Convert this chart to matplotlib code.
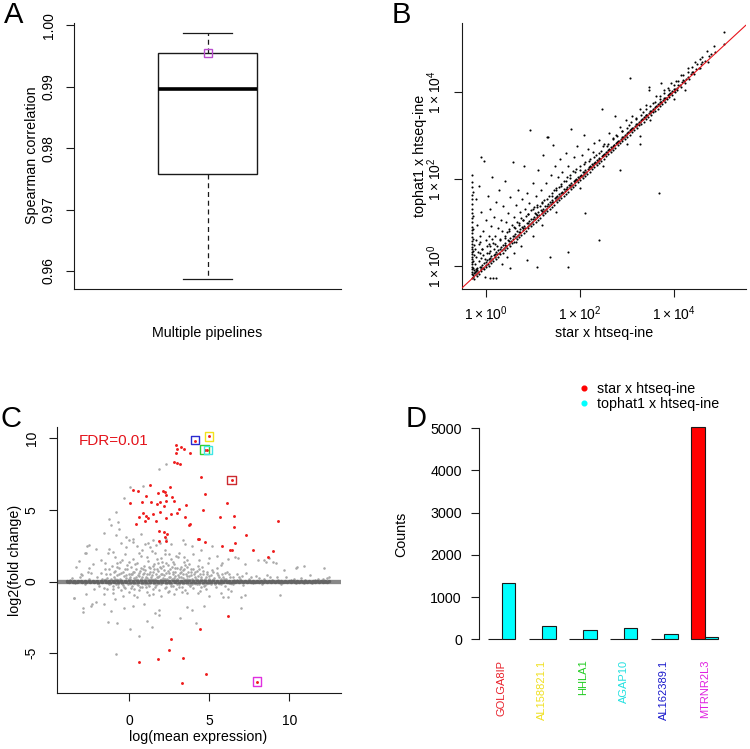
# four-panel pipeline comparison figure (A: box, B: log scatter, C: MA plot, D: counts)

import numpy as np
import matplotlib
matplotlib.use("Agg")
import matplotlib.pyplot as plt
from matplotlib.lines import Line2D
from matplotlib.ticker import NullLocator

plt.rcParams["font.family"] = ["Liberation Sans", "DejaVu Sans"]
plt.rcParams["mathtext.fontset"] = "custom"
plt.rcParams["mathtext.rm"] = "Liberation Sans"

# =============================================================================
# Data
# =============================================================================

# A: Spearman correlation box
A_WHISKER_LOW = 0.9587
A_Q1 = 0.9758
A_MEDIAN = 0.9896
A_Q3 = 0.9954
A_WHISKER_HIGH = 0.9988
A_HIGHLIGHT = 0.9954
A_TICKS = [0.96, 0.97, 0.98, 0.99, 1.00]
A_TICK_LABELS = ["0.96", "0.97", "0.98", "0.99", "1.00"]

# B: log10(star count), log10(tophat1 count)
B_BAND = [
    (-0.30, -0.27), (-0.28, -0.21), (-0.26, -0.25), (-0.23, -0.14), (-0.21, -0.19),
    (-0.18, -0.09), (-0.16, -0.13), (-0.13, -0.03), (-0.11, -0.08), (-0.08, 0.02),
    (-0.06, -0.04), (-0.03, 0.07), (0.00, 0.02), (0.02, 0.13), (0.05, 0.04),
    (0.07, 0.16), (0.09, 0.11), (0.12, 0.22), (0.14, 0.15), (0.17, 0.26),
    (0.19, 0.20), (0.22, 0.33), (0.24, 0.27), (0.27, 0.37), (0.29, 0.31),
    (0.32, 0.43), (0.34, 0.36), (0.37, 0.49), (0.39, 0.41), (0.42, 0.53),
    (0.44, 0.46), (0.47, 0.59), (0.49, 0.51), (0.52, 0.64), (0.54, 0.57),
    (0.57, 0.70), (0.59, 0.62), (0.62, 0.73), (0.64, 0.66), (0.67, 0.80),
    (0.69, 0.71), (0.72, 0.84), (0.74, 0.77), (0.77, 0.90), (0.79, 0.82),
    (0.82, 0.93), (0.84, 0.87), (0.87, 0.99), (0.89, 0.92), (0.92, 1.04),
    (0.94, 0.97), (0.97, 1.09), (0.99, 1.02), (1.02, 1.13), (1.04, 1.07),
    (1.07, 1.19), (1.09, 1.12), (1.12, 1.23), (1.14, 1.17), (1.17, 1.29),
    (1.19, 1.22), (1.22, 1.32), (1.24, 1.27), (1.27, 1.38), (1.29, 1.32),
    (1.32, 1.42), (1.34, 1.37), (1.37, 1.48), (1.39, 1.42), (1.42, 1.52),
    (1.44, 1.47), (1.47, 1.57), (1.49, 1.52), (1.52, 1.62), (1.54, 1.57),
    (1.57, 1.66), (1.59, 1.62), (1.62, 1.71), (1.64, 1.67), (1.67, 1.77),
    (1.69, 1.72), (1.72, 1.81), (1.74, 1.77), (1.77, 1.86), (1.79, 1.82),
    (1.82, 1.90), (1.84, 1.87), (1.87, 1.96), (1.89, 1.92), (1.92, 2.00),
    (1.94, 1.97), (1.97, 2.05), (1.99, 2.02), (2.02, 2.10), (2.04, 2.07),
    (2.07, 2.15), (2.09, 2.12), (2.12, 2.20), (2.14, 2.17), (2.17, 2.24),
    (2.19, 2.22), (2.22, 2.29), (2.24, 2.27), (2.27, 2.34), (2.29, 2.32),
    (2.32, 2.39), (2.34, 2.37), (2.37, 2.44), (2.39, 2.42), (2.42, 2.48),
    (2.44, 2.47), (2.47, 2.54), (2.49, 2.52), (2.52, 2.58), (2.54, 2.57),
    (2.57, 2.63), (2.59, 2.62), (2.62, 2.68), (2.64, 2.67), (2.67, 2.73),
    (2.69, 2.72), (2.72, 2.78), (2.74, 2.77), (2.77, 2.83), (2.79, 2.82),
    (2.82, 2.88), (2.84, 2.87), (2.87, 2.93), (2.89, 2.92), (2.92, 2.97),
    (2.94, 2.97), (2.97, 3.02), (2.99, 3.02), (3.02, 3.07), (3.04, 3.07),
    (3.07, 3.12), (3.09, 3.12), (3.12, 3.17), (3.14, 3.17), (3.17, 3.22),
    (3.19, 3.22), (3.22, 3.27), (3.24, 3.27), (3.27, 3.32), (3.29, 3.32),
    (3.32, 3.37), (3.34, 3.37), (3.37, 3.42), (3.39, 3.42), (3.42, 3.47),
    (3.44, 3.47), (3.47, 3.52), (3.49, 3.52), (3.52, 3.57), (3.54, 3.57),
    (3.57, 3.62), (3.59, 3.62), (3.62, 3.67), (3.64, 3.67), (3.67, 3.72),
    (3.69, 3.72), (3.72, 3.77), (3.74, 3.77), (3.77, 3.82), (3.79, 3.82),
    (3.82, 3.87), (3.84, 3.87), (3.87, 3.92), (3.89, 3.92), (3.92, 3.97),
    (3.94, 3.97), (3.97, 4.02), (4.00, 4.03), (4.03, 4.08), (4.07, 4.10),
    (4.10, 4.16), (4.14, 4.17), (4.18, 4.23), (4.22, 4.25), (4.26, 4.31),
    (4.31, 4.34), (4.36, 4.41), (4.41, 4.45), (4.47, 4.53), (4.53, 4.56),
    (4.59, 4.65), (4.67, 4.71), (4.76, 4.82), (4.87, 4.93), (5.06, 5.11),
]

B_BAND_LOW = [
    (-0.24, -0.29), (-0.19, -0.22), (-0.14, -0.18), (-0.09, -0.12), (-0.04, -0.08),
    (0.01, -0.03), (0.06, 0.01), (0.11, 0.06), (0.16, 0.11), (0.21, 0.16),
    (0.26, 0.21), (0.31, 0.27), (0.36, 0.31), (0.41, 0.36), (0.46, 0.41),
    (0.51, 0.46), (0.56, 0.52), (0.61, 0.56), (0.66, 0.61), (0.71, 0.66),
    (0.76, 0.72), (0.81, 0.76), (0.86, 0.81), (0.91, 0.87), (0.96, 0.91),
    (1.01, 0.96), (1.06, 1.02), (1.11, 1.06), (1.16, 1.11), (1.21, 1.17),
    (1.26, 1.21), (1.31, 1.26), (1.36, 1.32), (1.41, 1.36), (1.46, 1.41),
    (1.51, 1.47), (1.56, 1.51), (1.61, 1.56), (1.66, 1.62), (1.71, 1.66),
    (1.76, 1.71), (1.81, 1.77), (1.86, 1.82), (1.91, 1.87), (1.96, 1.92),
    (2.01, 1.97), (2.06, 2.02), (2.11, 2.07), (2.16, 2.12), (2.21, 2.17),
    (2.26, 2.22), (2.31, 2.27), (2.36, 2.32), (2.41, 2.37), (2.46, 2.42),
    (2.51, 2.47), (2.56, 2.52), (2.61, 2.57), (2.66, 2.62), (2.71, 2.67),
    (2.76, 2.72), (2.81, 2.78), (2.86, 2.82), (2.91, 2.87), (2.96, 2.93),
    (3.01, 2.97), (3.06, 3.02), (3.11, 3.08), (3.16, 3.12), (3.21, 3.17),
    (3.26, 3.23), (3.31, 3.27), (3.36, 3.32), (3.41, 3.38), (3.46, 3.42),
    (3.51, 3.47), (3.56, 3.53), (3.61, 3.57), (3.66, 3.62), (3.71, 3.68),
    (3.76, 3.72), (3.81, 3.77), (3.86, 3.83), (3.91, 3.88), (3.96, 3.93),
    (4.02, 3.99), (4.08, 4.05), (4.15, 4.12), (4.23, 4.20), (4.33, 4.30),
    (4.44, 4.41), (4.57, 4.55), (4.72, 4.70),
    (-0.20, -0.12), (-0.10, -0.02), (0.00, 0.09), (0.10, 0.18), (0.20, 0.28),
    (0.30, 0.39), (0.40, 0.48), (0.50, 0.58), (0.60, 0.68), (0.70, 0.78),
    (0.80, 0.88), (0.90, 0.98), (1.00, 1.08), (1.10, 1.18), (1.20, 1.27),
    (1.30, 1.38), (1.40, 1.47), (1.50, 1.58), (1.60, 1.67), (1.70, 1.77),
    (1.80, 1.87), (1.90, 1.97), (2.00, 2.07), (2.10, 2.17), (2.20, 2.27),
    (2.30, 2.36), (2.40, 2.46), (2.50, 2.56), (2.60, 2.66), (2.70, 2.76),
    (2.80, 2.86), (2.90, 2.96), (3.00, 3.06), (3.10, 3.16), (3.20, 3.26),
    (3.30, 3.36), (3.40, 3.46), (3.50, 3.56), (3.60, 3.66), (3.70, 3.76),
    (3.80, 3.86), (3.90, 3.96), (4.00, 4.06), (4.20, 4.27), (4.40, 4.47),
    (4.60, 4.68), (4.80, 4.87),
]

B_UPPER = [
    (0.10, 0.45), (0.30, 0.60), (0.50, 0.80), (0.70, 0.95), (0.90, 1.20),
    (1.10, 1.35), (1.30, 1.55), (1.50, 1.75), (1.70, 1.95), (1.90, 2.15),
    (2.10, 2.35), (2.30, 2.50), (2.50, 2.75), (2.70, 2.92), (2.90, 3.10),
    (3.10, 3.30), (3.30, 3.48), (3.50, 3.68), (3.70, 3.85), (3.90, 4.05),
    (4.10, 4.25), (4.30, 4.45), (4.50, 4.65), (0.20, 0.50), (0.40, 0.65),
    (0.60, 0.90), (0.80, 1.05), (1.00, 1.30), (1.20, 1.45), (1.40, 1.62),
    (1.60, 1.85), (1.80, 2.02), (2.00, 2.20), (2.20, 2.42), (2.40, 2.60),
    (2.60, 2.80), (2.80, 2.98), (3.00, 3.18), (3.20, 3.38), (3.40, 3.60),
    (3.60, 3.78), (3.80, 3.98), (4.00, 4.15), (4.20, 4.40), (4.40, 4.58),
    (4.60, 4.80),
    (-0.20, 1.55), (-0.18, 0.95), (-0.15, 1.85), (-0.12, 0.55), (-0.10, 1.25),
    (-0.08, 0.38), (-0.05, 0.80), (-0.03, 2.42), (0.00, 1.05), (0.02, 0.45),
    (0.04, 1.62), (0.06, 0.70), (0.08, 0.30), (0.10, 1.30), (0.12, 0.92),
    (0.14, 2.05), (0.15, 0.52), (0.18, 1.12), (0.20, 0.68), (0.22, 1.48),
    (0.24, 0.45), (0.26, 0.88), (0.28, 1.75), (0.30, 0.62), (0.32, 1.05),
    (0.35, 0.80), (0.37, 1.38), (0.40, 0.70), (0.42, 1.95), (0.44, 1.00),
    (0.46, 0.78), (0.48, 1.22), (0.50, 0.85), (0.52, 1.58), (0.55, 0.95),
    (0.58, 2.40), (0.60, 1.12), (0.62, 0.88), (0.64, 1.40), (0.66, 1.02),
    (0.68, 1.75), (0.70, 0.98), (0.72, 1.25), (0.75, 1.10), (0.77, 1.55),
    (0.80, 1.05), (0.82, 2.30), (0.84, 1.30), (0.86, 1.15), (0.88, 1.68),
    (0.90, 1.20), (0.93, 1.45), (0.95, 3.13), (0.97, 1.28), (1.00, 1.90),
    (1.02, 1.35), (1.05, 1.22), (1.08, 1.60), (1.10, 1.40), (1.12, 2.20),
    (1.15, 1.38), (1.18, 1.75), (1.20, 1.48), (1.22, 2.55), (1.25, 1.52),
    (1.28, 1.90), (1.30, 2.96), (1.33, 2.96), (1.35, 1.60), (1.38, 2.10),
    (1.40, 1.68), (1.43, 2.78), (1.45, 1.75), (1.48, 2.30), (1.50, 1.80),
    (1.53, 2.05), (1.55, 1.82), (1.58, 2.45), (1.60, 1.88), (1.63, 2.15),
    (1.66, 1.95), (1.70, 2.60), (1.73, 2.05), (1.76, 2.30), (1.80, 2.10),
    (1.82, 3.16), (1.85, 2.18), (1.88, 2.50), (1.92, 2.22), (1.95, 2.75),
    (2.00, 2.30), (2.05, 2.55), (2.10, 3.01), (2.12, 2.38), (2.18, 2.70),
    (2.22, 2.45), (2.28, 2.62), (2.31, 2.82), (2.35, 2.55), (2.40, 2.90),
    (2.45, 2.65), (2.47, 3.62), (2.52, 2.80), (2.58, 2.75), (2.62, 3.05),
    (2.70, 2.95), (2.75, 3.45), (2.78, 3.00), (2.85, 3.20), (2.90, 3.10),
    (2.98, 3.35), (3.05, 3.25), (3.07, 4.33), (3.12, 3.45), (3.20, 3.40),
    (3.28, 3.60), (3.35, 3.55), (3.42, 3.70), (3.48, 4.12), (3.48, 4.05),
    (3.55, 3.75), (3.62, 3.90), (3.70, 3.90), (3.72, 4.21), (3.80, 4.05),
    (3.88, 4.10), (3.95, 4.20), (4.05, 4.25), (4.15, 4.40), (4.30, 4.55),
    (4.45, 4.70), (4.55, 4.75), (4.70, 4.95), (4.85, 5.05), (5.06, 5.37),
    (-0.22, 0.05), (-0.20, 0.20), (-0.18, -0.05), (-0.15, 0.12), (-0.12, 0.30),
    (-0.10, 0.18), (-0.07, 0.40), (-0.05, 0.25), (-0.02, 0.15), (0.03, 0.30),
    (0.06, 0.50), (0.10, 0.35), (-0.22, 0.40), (-0.20, 0.60), (-0.15, 0.50),
    (-0.17, 0.32), (-0.12, 0.70), (0.00, 0.60), (0.13, 0.62), (0.18, 0.40),
    (-0.24, -0.15), (-0.21, -0.08),
]

B_COLUMN = [
    (-0.09, 2.51), (-0.30, 2.09), (-0.29, 1.94), (-0.30, 1.82), (-0.28, 1.70),
    (-0.30, 1.63), (-0.29, 1.53), (-0.30, 1.43), (-0.30, 1.30), (-0.29, 1.21),
    (-0.27, 1.15), (-0.30, 1.10), (-0.30, 1.00), (-0.29, 0.90), (-0.27, 0.85),
    (-0.30, 0.83), (-0.30, 0.75), (-0.30, 0.66), (-0.27, 0.62), (-0.29, 0.58),
    (-0.30, 0.51), (-0.25, 0.48), (-0.30, 0.44), (-0.30, 0.38), (-0.27, 0.35),
    (-0.29, 0.33), (-0.30, 0.28), (-0.25, 0.25), (-0.30, 0.21), (-0.30, 0.15),
    (-0.27, 0.12), (-0.29, 0.10), (-0.30, 0.05), (-0.30, -0.02), (-0.27, -0.05),
    (-0.30, -0.08), (-0.24, -0.10), (-0.29, -0.13), (-0.30, -0.18),
]

B_LOWER = [
    (3.69, 1.67), (2.40, 0.60), (1.76, 0.33), (1.76, -0.02), (1.37, 0.21),
    (1.09, -0.02), (0.87, 0.14), (2.11, 1.21), (2.86, 2.21), (3.28, 2.99),
    (3.28, 2.80), (4.24, 4.05), (0.16, -0.28), (0.52, -0.05), (0.09, -0.28),
    (0.21, -0.27), (-0.01, -0.26), (0.45, 0.20), (0.60, 0.30), (0.35, 0.05),
    (0.75, 0.45), (1.00, 0.70), (1.20, 0.95), (1.50, 1.25), (2.00, 1.80),
    (2.50, 2.30), (3.00, 2.80), (3.50, 3.35), (4.00, 3.85), (0.65, 0.55),
]

# C: MA plot, (log mean expression, log2 fold change)
C_RED = [
    (4.10, 9.83), (5.00, 10.12), (4.72, 9.20), (4.86, 9.16), (6.38, 7.09),
    (7.98, -6.98), (2.92, 9.49), (3.25, 9.35), (3.44, 9.24), (2.96, 9.22),
    (2.92, 8.96), (3.81, 8.94), (2.77, 8.37), (2.98, 8.24), (3.17, 8.19),
    (4.48, 7.28), (1.31, 6.75), (0.25, 6.38), (0.52, 6.31), (1.04, 6.00),
    (1.79, 6.19), (2.09, 6.33), (2.23, 6.28), (2.54, 6.63), (2.29, 6.05),
    (2.67, 5.93), (4.75, 6.14), (0.02, 5.47), (0.77, 5.54), (1.34, 5.54),
    (1.94, 5.58), (2.31, 5.63), (2.77, 5.63), (3.56, 5.35), (1.71, 5.40),
    (2.19, 5.28), (6.09, 5.51), (4.63, 5.02), (3.10, 5.05), (0.88, 4.79),
    (1.04, 4.58), (1.46, 4.68), (1.94, 4.84), (2.98, 4.75), (2.61, 4.72),
    (2.29, 4.45), (1.17, 4.40), (0.63, 4.47), (5.67, 4.51), (6.54, 4.58),
    (9.27, 4.24), (3.48, 4.53), (1.67, 4.19), (0.42, 4.00), (1.00, 4.19),
    (3.79, 4.00), (3.75, 3.95), (6.54, 3.79), (1.88, 3.54), (2.15, 3.49),
    (2.36, 3.33), (2.25, 3.14), (7.31, 3.24), (1.84, 2.86), (2.29, 2.86),
    (4.27, 2.95), (4.35, 2.95), (4.75, 2.75), (6.59, 2.68), (5.81, 2.47),
    (6.31, 2.23), (6.40, 2.23), (7.75, 2.19), (9.00, 2.14), (8.65, 1.72),
    (4.40, -3.31), (2.59, -4.02), (2.46, -4.79), (3.34, -5.32), (1.77, -5.37),
    (0.59, -5.60), (3.27, -7.09), (6.13, -2.39), (4.81, -6.46),
]

C_GREY_FAR = [
    (2.29, 8.19), (1.88, 7.86), (0.88, 6.67), (0.04, 6.58), (-0.33, 5.81),
    (-0.85, 4.86), (-1.29, 4.35), (-0.73, 4.12), (-1.14, 3.96), (-0.63, 3.66),
    (-1.60, 3.42), (-0.83, 3.26), (-0.21, 3.14), (0.00, 2.91), (0.25, 2.79),
    (1.46, 2.91), (1.15, 2.68), (1.67, 2.56), (3.33, 2.91), (3.50, 2.61),
    (-2.50, 2.56), (-2.08, 2.28), (-2.71, 1.98), (-1.25, 2.28), (-1.35, 1.98),
    (-1.04, 2.09), (-2.63, 2.47), (-2.77, 1.98), (-3.15, 1.44), (-3.33, 1.02),
    (-2.96, 0.47), (-2.39, 0.58), (-2.50, 0.93), (0.50, 2.50), (0.80, 2.20),
    (1.30, 2.40), (1.00, 2.60), (1.90, 2.70), (2.60, 2.60), (2.30, 3.00),
    (0.20, 3.00), (0.70, 3.30), (-0.50, 2.70), (-0.20, 2.40), (3.90, 2.50),
    (4.50, 2.20), (5.19, 2.51), (5.50, 1.80), (5.80, 1.30), (6.58, 1.72),
    (6.77, 1.67), (7.20, 1.20), (8.38, 1.51), (8.75, 1.67), (9.17, 1.28),
    (10.46, 1.00), (10.88, 1.12), (12.13, 0.95), (12.44, 0.35), (11.30, 0.47),
    (8.02, 1.51), (8.54, 1.40), (9.00, 1.35), (9.63, 0.81), (10.42, 0.98),
    (12.33, 0.28), (5.00, 1.67), (5.73, 1.16), (6.15, 1.58), (4.38, 1.51),
    (1.60, 2.00), (2.20, 2.20), (3.10, 2.00), (4.00, 1.90), (-1.50, 1.30),
    (-0.60, 1.40), (2.50, 1.90), (3.40, 1.70),
    (-3.44, -1.16), (-2.92, -1.86), (-2.92, -2.09), (-2.35, -1.58), (-2.71, -0.88),
    (-2.08, -1.40), (-1.56, -1.58), (-1.14, -2.05), (-1.31, -2.79), (-0.77, -2.91),
    (-0.83, -5.07), (-0.31, -1.81), (0.21, -1.67), (0.04, -3.30), (0.63, -3.77),
    (1.08, -2.72), (1.42, -3.18), (1.88, -1.97), (1.88, -2.32), (3.17, -2.55),
    (3.59, -1.79), (3.92, -1.97), (4.17, -2.90), (-3.46, -1.12), (-2.42, -1.72),
    (0.92, -1.58), (1.60, -2.21), (4.96, -0.98), (6.15, -1.05), (6.98, -1.86),
    (7.23, -0.95), (9.44, -0.93), (4.27, -0.81), (4.69, -1.67), (5.73, -0.81),
    (5.83, -1.05), (6.15, -0.51), (6.35, -0.65), (6.98, -1.05), (-0.40, -1.00),
    (0.50, -1.10), (1.20, -0.95), (2.00, -1.00), (2.80, -0.90), (3.60, -0.80),
    (4.40, -0.65), (-1.00, -0.80), (-1.40, -0.50), (-3.92, -0.05), (-3.60, 0.25),
]

C_GREY_CLOUD = [
    (-2.0, 0.35), (-1.9, -0.3), (-1.8, 0.6), (-1.7, 0.15), (-1.6, -0.45),
    (-1.5, 0.85), (-1.4, 0.25), (-1.3, -0.2), (-1.2, 0.5), (-1.1, 1.1),
    (-1.0, -0.5), (-0.95, 0.3), (-0.9, 0.75), (-0.85, -0.15), (-0.8, 1.3),
    (-0.75, 0.45), (-0.7, -0.35), (-0.65, 0.95), (-0.6, 0.2), (-0.55, -0.6),
    (-0.5, 0.6), (-0.45, 1.5), (-0.4, -0.25), (-0.35, 0.4), (-0.3, 0.85),
    (-0.25, -0.45), (-0.2, 0.25), (-0.15, 1.15), (-0.1, -0.15), (-0.05, 0.55),
    (0.0, -0.7), (0.05, 0.35), (0.1, 1.0), (0.15, -0.3), (0.2, 0.65),
    (0.25, 1.6), (0.3, -0.5), (0.35, 0.2), (0.4, 0.9), (0.45, -0.2),
    (0.5, 1.3), (0.55, 0.45), (0.6, -0.6), (0.65, 0.75), (0.7, 0.15),
    (0.75, 1.8), (0.8, -0.35), (0.85, 0.5), (0.9, 1.1), (0.95, -0.15),
    (1.0, 0.8), (1.05, 0.3), (1.1, -0.75), (1.15, 1.45), (1.2, 0.55),
    (1.25, -0.3), (1.3, 0.95), (1.35, 0.2), (1.4, 2.1), (1.45, -0.5),
    (1.5, 0.65), (1.55, 1.25), (1.6, 0.1), (1.65, -0.25), (1.7, 0.85),
    (1.75, 1.6), (1.8, 0.35), (1.85, -0.6), (1.9, 1.05), (1.95, 0.5),
    (2.0, -0.2), (2.05, 1.4), (2.1, 0.25), (2.15, 0.8), (2.2, -0.45),
    (2.25, 1.9), (2.3, 0.6), (2.35, -0.1), (2.4, 1.15), (2.45, 0.35),
    (2.5, -0.65), (2.55, 0.9), (2.6, 1.55), (2.65, 0.2), (2.7, -0.3),
    (2.75, 0.7), (2.8, 1.2), (2.85, 0.4), (2.9, -0.5), (2.95, 0.95),
    (3.0, 0.15), (3.05, 1.7), (3.1, -0.2), (3.15, 0.6), (3.2, 1.05),
    (3.25, 0.3), (3.3, -0.4), (3.35, 0.8), (3.4, 1.4), (3.45, 0.1),
    (3.5, -0.6), (3.55, 0.55), (3.6, 1.0), (3.65, -0.15), (3.7, 0.4),
    (3.75, 1.25), (3.8, -0.3), (3.85, 0.7), (3.9, 0.2), (3.95, -0.45),
    (4.0, 0.9), (4.1, 0.35), (4.2, -0.2), (4.3, 1.1), (4.4, 0.5),
    (4.5, -0.35), (4.6, 0.75), (4.7, 0.15), (4.8, -0.5), (4.9, 1.3),
    (5.0, 0.4), (5.1, -0.15), (5.2, 0.65), (5.3, 0.25), (5.4, -0.4),
    (5.5, 0.95), (5.6, 0.3), (5.7, -0.2), (5.8, 0.55), (5.9, 0.15),
    (6.0, -0.3), (6.1, 0.7), (6.3, 0.35), (6.5, -0.15), (6.7, 0.5),
    (6.9, 0.2), (7.1, -0.25), (7.3, 0.6), (7.5, 0.15), (7.7, -0.1),
    (7.9, 0.4), (8.1, 0.25), (8.3, -0.2), (8.6, 0.45), (8.9, 0.1),
    (9.2, 0.35), (9.5, -0.15), (9.8, 0.3), (10.1, 0.12), (10.4, -0.1),
    (10.7, 0.25), (11.0, 0.08), (11.4, -0.08), (11.8, 0.15), (12.2, -0.05),
    (-2.5, 0.15), (-2.8, -0.2), (-3.1, 0.3), (-3.4, -0.1), (-3.7, 0.1),
    (-2.2, -0.5), (-2.6, 0.65), (-3.0, 0.55),
    (0.02, 0.15), (0.12, 0.5), (0.22, -0.1), (0.32, 0.7), (0.42, 0.3),
    (0.52, -0.25), (0.62, 0.4), (0.72, 0.95), (0.82, 0.1), (0.92, 0.6),
    (1.02, -0.4), (1.12, 0.25), (1.22, 1.0), (1.32, -0.1), (1.42, 0.45),
    (1.52, 0.9), (1.62, -0.4), (1.72, 0.3), (1.82, 0.75), (1.92, 0.05),
    (2.02, 0.55), (2.12, 1.1), (2.22, 0.15), (2.32, -0.35), (2.42, 0.75),
    (2.52, 0.3), (2.62, -0.15), (2.72, 0.5), (2.82, 0.95), (2.92, 0.1),
    (3.02, 0.45), (3.12, -0.35), (3.22, 0.7), (3.32, 0.25), (3.42, 0.85),
    (3.52, -0.1), (3.62, 0.4), (3.72, 0.1), (3.82, 0.9), (3.92, -0.2),
    (4.02, 0.55), (4.15, 0.2), (4.25, 0.75), (4.35, -0.15), (4.45, 0.35),
    (4.55, 1.0), (4.65, 0.1), (4.75, -0.25), (4.85, 0.5), (4.95, 0.2),
    (5.15, 0.8), (5.35, -0.2), (5.55, 0.45), (5.75, 0.15), (5.95, 0.6),
    (6.2, -0.1), (6.45, 0.3), (6.75, 0.1), (7.05, 0.4), (7.4, -0.05),
    (-1.45, 0.55), (-1.35, -0.1), (-1.25, 0.9), (-1.15, 0.2), (-1.05, -0.3),
    (-0.98, 0.65), (-0.88, 0.15), (-0.78, 1.0), (-0.72, -0.2), (-0.62, 0.5),
    (-0.52, 0.1), (-0.42, 0.7), (-0.32, -0.4), (-0.22, 0.45), (-0.12, 0.9),
    (-0.02, 0.2), (0.08, -0.45), (0.18, 0.55), (0.28, 0.25), (0.38, 1.2),
    (0.48, 0.05), (0.58, 0.6), (0.68, -0.4), (0.78, 0.3), (0.88, 0.85),
    (0.98, 0.15), (1.08, 0.55), (1.18, -0.2), (1.28, 0.7), (1.38, 0.35),
    (1.48, 1.1), (1.58, 0.2), (1.68, 0.55), (1.78, -0.1), (1.88, 0.4),
    (1.98, 0.95), (2.08, 0.1), (2.18, 0.45), (2.28, 1.3), (2.38, 0.2),
    (2.48, 0.6), (2.58, -0.3), (2.68, 1.0), (2.78, 0.25), (2.88, 0.7),
    (2.98, -0.2), (3.08, 0.35), (3.18, 0.85), (3.28, 0.05), (3.38, 0.5),
    (3.48, 1.15), (3.58, 0.2), (3.68, 0.65), (3.78, -0.25), (3.88, 0.45),
    (3.98, 0.1), (4.08, 0.7), (4.18, -0.1), (4.28, 0.4), (4.38, 0.85),
    (4.48, 0.15), (4.58, 0.5), (4.68, -0.3), (4.78, 0.3), (4.88, 0.7),
    (4.98, -0.1), (5.08, 0.45), (5.25, 0.1), (5.45, 0.6), (5.65, -0.1),
    (5.85, 0.35), (6.05, 0.2), (6.25, 0.55), (6.55, 0.1), (6.85, 0.35),
    (7.2, 0.05), (7.6, 0.3), (8.0, -0.05), (8.4, 0.2), (8.8, 0.3),
    (9.3, 0.1), (9.7, -0.05), (10.3, 0.2), (10.9, -0.1), (11.6, 0.1),
    (12.1, 0.2), (-1.8, 1.5), (-2.3, 1.2), (-2.1, 0.05), (-1.6, -0.9),
    (-0.9, -1.2), (0.3, -0.95), (1.5, -0.85), (2.4, -0.75), (3.3, -0.7),
    (-0.3, 1.9), (0.6, 2.0), (1.1, 1.7), (2.0, 1.65), (2.9, 1.8),
    (3.6, 1.5), (-0.9, 1.7), (0.0, 1.4), (1.8, 1.3), (2.7, 1.35),
]

C_GREY_ZERO = [
    (-3.92, 0.02), (-3.80, -0.03), (-3.68, 0.04), (-3.55, -0.02), (-3.43, 0.05),
    (-3.30, -0.04), (-3.18, 0.01), (-3.05, 0.06), (-2.93, -0.05), (-2.80, 0.03),
    (-2.68, -0.01), (-2.55, 0.07), (-2.43, -0.06), (-2.30, 0.02), (-2.18, -0.03),
    (-2.05, 0.05), (-1.93, -0.07), (-1.80, 0.04), (-1.68, -0.02), (-1.55, 0.08),
    (-1.43, -0.05), (-1.30, 0.03), (-1.18, -0.08), (-1.05, 0.06), (-0.93, -0.03),
    (-0.80, 0.09), (-0.68, -0.06), (-0.55, 0.02), (-0.43, -0.09), (-0.30, 0.07),
    (-0.18, -0.04), (-0.05, 0.10), (0.07, -0.07), (0.20, 0.03), (0.32, -0.10),
    (0.45, 0.08), (0.57, -0.02), (0.70, 0.11), (0.82, -0.08), (0.95, 0.04),
    (1.07, -0.11), (1.20, 0.09), (1.32, -0.03), (1.45, 0.12), (1.57, -0.07),
    (1.70, 0.05), (1.82, -0.12), (1.95, 0.10), (2.07, -0.04), (2.20, 0.12),
    (2.32, -0.09), (2.45, 0.06), (2.57, -0.11), (2.70, 0.10), (2.82, -0.05),
    (2.95, 0.12), (3.07, -0.08), (3.20, 0.05), (3.32, -0.11), (3.45, 0.09),
    (3.57, -0.04), (3.70, 0.11), (3.82, -0.08), (3.95, 0.06), (4.07, -0.10),
    (4.20, 0.09), (4.32, -0.04), (4.45, 0.10), (4.57, -0.07), (4.70, 0.05),
    (4.82, -0.09), (4.95, 0.08), (5.07, -0.03), (5.20, 0.09), (5.32, -0.07),
    (5.45, 0.04), (5.57, -0.08), (5.70, 0.07), (5.82, -0.03), (5.95, 0.08),
    (6.07, -0.06), (6.20, 0.04), (6.32, -0.07), (6.45, 0.06), (6.57, -0.03),
    (6.70, 0.07), (6.82, -0.05), (6.95, 0.03), (7.07, -0.06), (7.20, 0.05),
    (7.32, -0.02), (7.45, 0.06), (7.57, -0.05), (7.70, 0.03), (7.82, -0.04),
    (7.95, 0.05), (8.07, -0.02), (8.20, 0.04), (8.32, -0.05), (8.45, 0.03),
    (8.57, -0.03), (8.70, 0.05), (8.82, -0.02), (8.95, 0.04), (9.07, -0.04),
    (9.20, 0.02), (9.32, -0.03), (9.45, 0.04), (9.57, -0.02), (9.70, 0.03),
    (9.82, -0.03), (9.95, 0.02), (10.07, -0.02), (10.20, 0.03), (10.32, -0.01),
    (10.45, 0.02), (10.57, -0.03), (10.70, 0.02), (10.82, -0.01), (10.95, 0.03),
    (11.07, -0.02), (11.20, 0.01), (11.32, -0.02), (11.45, 0.02), (11.57, -0.01),
    (11.70, 0.02), (11.82, -0.02), (11.95, 0.01), (12.07, -0.01), (12.20, 0.02),
    (12.32, -0.01), (12.45, 0.01),
]

# highlighted genes in C (same genes as panel D)
C_BOX_X = [6.38, 4.98, 4.69, 4.90, 4.10, 7.98]
C_BOX_Y = [7.09, 10.12, 9.21, 9.17, 9.86, -6.98]
C_BOX_COLORS = ["#cc2a30", "#f2e21c", "#2fcf2f", "#3fe6e6", "#2a2ad0", "#e030e0"]

# D: counts per pipeline
D_GENES = ["GOLGA8IP", "AL158821.1", "HHLA1", "AGAP10", "AL162389.1", "MTRNR2L3"]
D_GENE_COLORS = ["#e8202a", "#f0e020", "#22cc22", "#22e0e0", "#1a1acc", "#e020e0"]
D_STAR = [6, 2, 2, 3, 4, 5030]
D_TOPHAT = [1330, 315, 213, 268, 126, 47]
D_TICKS = [0, 1000, 2000, 3000, 4000, 5000]

# =============================================================================
# Layout helpers (pixel positions in a 750 x 749 canvas)
# =============================================================================

W, H = 750, 749
fig = plt.figure(figsize=(W / 100, H / 100), dpi=100)

FS = 10.3
TICK_FS = 10.0


def axes_at(left, top, right, bottom):
    return fig.add_axes([left / W, 1 - bottom / H, (right - left) / W, (bottom - top) / H])


def fig_text(x, y, s, **kw):
    fig.text(x / W, 1 - y / H, s, **kw)


def r_axes(ax):
    for side in ("top", "right"):
        ax.spines[side].set_visible(False)
    for side in ("left", "bottom"):
        ax.spines[side].set_linewidth(0.8)
        ax.spines[side].set_color("#1a1a1a")
    ax.tick_params(direction="out", length=5.8, width=0.8, color="#1a1a1a",
                   labelsize=TICK_FS)


# =============================================================================
# A
# =============================================================================

ax = axes_at(74, 23.3, 341, 289)
r_axes(ax)
stats = [dict(med=A_MEDIAN, q1=A_Q1, q3=A_Q3, whislo=A_WHISKER_LOW,
              whishi=A_WHISKER_HIGH, fliers=[])]
ax.bxp(stats, positions=[1], widths=0.37, capwidths=0.185, patch_artist=True,
       showfliers=False,
       boxprops=dict(facecolor="white", edgecolor="#1a1a1a", linewidth=1.0),
       medianprops=dict(color="black", linewidth=2.6, solid_capstyle="butt"),
       whiskerprops=dict(color="#1a1a1a", linewidth=0.9, linestyle=(0, (4, 3))),
       capprops=dict(color="#1a1a1a", linewidth=0.9))
ax.plot([1], [A_HIGHLIGHT], marker="s", ms=5.8, mfc="none", mec="#b84ccc",
        mew=1.0, zorder=5)
ax.set_xlim(0.5, 1.5)
ax.set_ylim(0.95707, 1.0003)
ax.set_xticks([])
ax.set_yticks(A_TICKS, A_TICK_LABELS, rotation=90, va="center")
ax.tick_params(axis="y", pad=7.5)
ax.tick_params(axis="x", length=0)

fig_text(207.5, 332.7, "Multiple pipelines", fontsize=FS, ha="center", va="center")
fig_text(32.3, 155.5, "Spearman correlation", fontsize=FS, ha="center",
         va="center", rotation=90)
fig_text(13.8, 22.7, "A", fontsize=21, ha="center", va="baseline")

# =============================================================================
# B
# =============================================================================

ax = axes_at(461.7, 22.7, 745.7, 289)
r_axes(ax)
ax.set_xscale("log")
ax.set_yscale("log")
b_pts = np.array(B_BAND + B_BAND_LOW + B_UPPER + B_COLUMN + B_LOWER)
ax.scatter(10 ** b_pts[:, 0], 10 ** b_pts[:, 1], s=2.3, c="black",
           linewidths=0, zorder=2)
ax.axline((1, 1), (1e4, 1e4), color="#e8141c", lw=0.8, zorder=3)
ax.set_xlim(10 ** -0.511, 10 ** 5.532)
ax.set_ylim(10 ** -0.529, 10 ** 5.593)

b_ticks = [1, 100, 1e4]
b_labels = [r"$\mathregular{1\times10^{0}}$", r"$\mathregular{1\times10^{2}}$",
            r"$\mathregular{1\times10^{4}}$"]
ax.set_xticks(b_ticks, b_labels)
ax.set_yticks(b_ticks, b_labels, rotation=90, va="center")
ax.xaxis.set_minor_locator(NullLocator())
ax.yaxis.set_minor_locator(NullLocator())
ax.tick_params(axis="x", pad=5.5)
ax.tick_params(axis="y", pad=7.0)

fig_text(603.7, 332.7, "star x htseq-ine", fontsize=FS, ha="center", va="center")
fig_text(419.7, 155.8, "tophat1 x htseq-ine", fontsize=FS, ha="center",
         va="center", rotation=90)
fig_text(401.2, 22.7, "B", fontsize=21, ha="center", va="baseline")

# =============================================================================
# C
# =============================================================================

ax = axes_at(57.3, 426.7, 340.7, 693.3)
r_axes(ax)
grey = np.array(C_GREY_FAR + C_GREY_CLOUD)
ax.scatter(grey[:, 0], grey[:, 1], s=3.4, c="#a9a9a9", linewidths=0, zorder=2)
zero = np.array(C_GREY_ZERO)
ax.scatter(zero[:, 0], zero[:, 1], s=6.5, c="#a9a9a9", linewidths=0, zorder=2)
ax.axhline(0, color="#333333", alpha=0.58, lw=3.1, zorder=3)
red = np.array(C_RED)
ax.scatter(red[:, 0], red[:, 1], s=4.4, c="#ee1c1c", linewidths=0, zorder=4)
ax.scatter(C_BOX_X, C_BOX_Y, marker="s", s=38, facecolors="none",
           edgecolors=C_BOX_COLORS, linewidths=1.0, zorder=5)
ax.text(-1.0, 9.54, "FDR=0.01", color="#e4141c", fontsize=11, ha="center",
        va="baseline")
ax.set_xlim(-4.5, 13.2)
ax.set_ylim(-7.79, 10.8)
ax.set_xticks([0, 5, 10], ["0", "5", "10"])
ax.set_yticks([-5, 0, 5, 10], ["-5", "0", "5", "10"], rotation=90, va="center")
ax.tick_params(axis="x", pad=9)
ax.tick_params(axis="y", pad=7.5)

fig_text(198.3, 736.7, "log(mean expression)", fontsize=FS, ha="center", va="center")
fig_text(15, 560.8, "log2(fold change)", fontsize=FS, ha="center", va="center",
         rotation=90)
fig_text(11, 427.3, "C", fontsize=21, ha="center", va="baseline")

# =============================================================================
# D
# =============================================================================

ax = axes_at(479, 418.5, 727.6, 647.8)
r_axes(ax)
ax.spines["bottom"].set_visible(False)
ax.spines["left"].set_bounds(0, 5000)
group = np.arange(len(D_GENES)) * 3
ax.bar(group + 1.5, D_STAR, width=1.0, color="#ff0000", edgecolor="#1a1a1a",
       linewidth=0.8)
ax.bar(group + 2.5, D_TOPHAT, width=1.0, color="#00ffff", edgecolor="#1a1a1a",
       linewidth=0.8)
ax.set_xlim(0.32, 18.68)
ax.set_ylim(-201, 5231)
ax.set_yticks(D_TICKS, [str(t) for t in D_TICKS])
ax.tick_params(axis="y", pad=6.5, labelsize=FS)
ax.set_xticks(group + 2, D_GENES, rotation=90, fontsize=8)
ax.tick_params(axis="x", length=0, pad=8.6)
for lab, col in zip(ax.get_xticklabels(), D_GENE_COLORS):
    lab.set_color(col)

handles = [
    Line2D([], [], ls="", marker="o", ms=3.4, color="#ff0000"),
    Line2D([], [], ls="", marker="o", ms=3.4, color="#00ffff"),
]
fig.legend(handles, ["star x htseq-ine", "tophat1 x htseq-ine"],
           loc="upper left", bbox_to_anchor=(577.0 / W, 1 - 381.9 / H),
           frameon=False, fontsize=FS, handlelength=1.0, handletextpad=0.43,
           labelspacing=0.1, borderpad=0, borderaxespad=0)

fig_text(401.7, 534, "Counts", fontsize=FS, ha="center", va="center", rotation=90)
fig_text(416.2, 427.3, "D", fontsize=21, ha="center", va="baseline")

fig.savefig("out.png", dpi=100)
